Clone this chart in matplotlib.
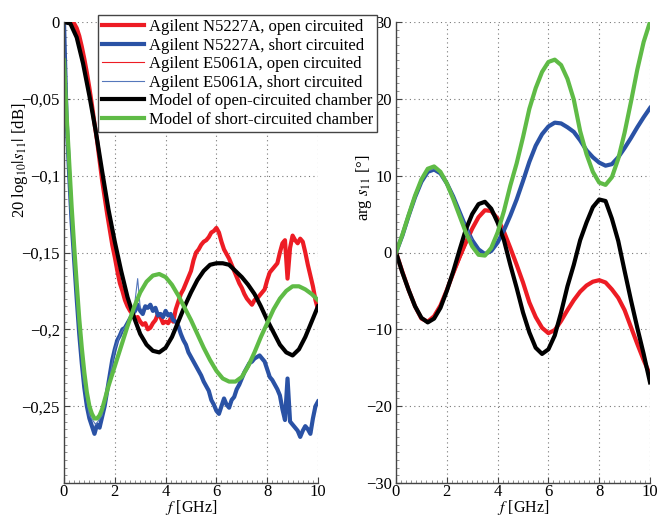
import matplotlib
matplotlib.use("Agg")
import matplotlib.pyplot as plt
from matplotlib.ticker import FuncFormatter, MultipleLocator
import numpy as np

plt.rcParams['font.family'] = ['Liberation Serif', 'DejaVu Serif']
plt.rcParams['mathtext.fontset'] = 'stix'
plt.rcParams['font.size'] = 12

# frequency axes [GHz]
f_meas = np.arange(101) * 0.1
f_model = np.arange(41) * 0.25
f_e5061 = np.arange(13) * 0.25
f_e5061_short = [0, 0.05, 0.1, 0.25, 0.5, 0.75, 1.0, 1.25, 1.5, 1.75, 2.0, 2.25, 2.5, 2.75, 2.9, 3.0]

# |s11| in dB
n5227_open_db = [0.000, 0.001, 0.000, 0.001, -0.001, -0.004, -0.009, -0.016, -0.024, -0.033,
                 -0.043, -0.054, -0.066, -0.077, -0.090, -0.103, -0.114, -0.125, -0.135, -0.145,
                 -0.153, -0.162, -0.170, -0.175, -0.181, -0.185, -0.188, -0.190, -0.193, -0.192,
                 -0.195, -0.197, -0.196, -0.200, -0.199, -0.196, -0.194, -0.190, -0.192, -0.196,
                 -0.195, -0.196, -0.193, -0.195, -0.187, -0.182, -0.177, -0.174, -0.170, -0.166,
                 -0.162, -0.155, -0.150, -0.148, -0.145, -0.143, -0.142, -0.140, -0.137, -0.136,
                 -0.134, -0.137, -0.143, -0.148, -0.151, -0.154, -0.158, -0.162, -0.166, -0.170,
                 -0.173, -0.177, -0.180, -0.182, -0.184, -0.181, -0.180, -0.178, -0.176, -0.174,
                 -0.168, -0.163, -0.161, -0.159, -0.157, -0.150, -0.144, -0.142, -0.167, -0.147,
                 -0.139, -0.142, -0.144, -0.141, -0.143, -0.150, -0.158, -0.165, -0.172, -0.181,
                 -0.187]
n5227_short_db = [0.000, -0.062, -0.098, -0.130, -0.155, -0.180, -0.203, -0.222, -0.238, -0.250,
                  -0.258, -0.263, -0.268, -0.262, -0.264, -0.257, -0.250, -0.240, -0.230, -0.220,
                  -0.213, -0.207, -0.204, -0.200, -0.199, -0.196, -0.193, -0.190, -0.188, -0.184,
                  -0.188, -0.190, -0.185, -0.186, -0.184, -0.188, -0.186, -0.191, -0.190, -0.192,
                  -0.188, -0.191, -0.190, -0.194, -0.195, -0.198, -0.203, -0.207, -0.210, -0.215,
                  -0.218, -0.221, -0.224, -0.227, -0.230, -0.234, -0.237, -0.240, -0.246, -0.249,
                  -0.253, -0.255, -0.250, -0.245, -0.249, -0.251, -0.246, -0.244, -0.239, -0.236,
                  -0.232, -0.228, -0.225, -0.222, -0.221, -0.219, -0.218, -0.217, -0.219, -0.221,
                  -0.226, -0.231, -0.233, -0.236, -0.239, -0.243, -0.252, -0.259, -0.232, -0.260,
                  -0.262, -0.264, -0.266, -0.270, -0.266, -0.263, -0.265, -0.268, -0.258, -0.250,
                  -0.247]
e5061_open_db = [0.000, 0.000, -0.004, -0.020, -0.043, -0.068, -0.100, -0.127, -0.152, -0.172,
                 -0.185, -0.192, -0.195]
e5061_short_db = [0.000, -0.035, -0.062, -0.115, -0.178, -0.231, -0.256, -0.262, -0.256, -0.236,
                  -0.213, -0.202, -0.196, -0.188, -0.167, -0.186]
model_open_db = [0.000, -0.001, -0.010, -0.027, -0.048, -0.071, -0.097, -0.122, -0.143, -0.162,
                 -0.179, -0.192, -0.203, -0.210, -0.214, -0.215, -0.212, -0.205, -0.195, -0.185,
                 -0.176, -0.168, -0.162, -0.158, -0.157, -0.157, -0.158, -0.162, -0.166, -0.171,
                 -0.177, -0.185, -0.194, -0.202, -0.210, -0.215, -0.217, -0.213, -0.205, -0.195,
                 -0.185]
f_model_short_db = [0, 0.1, 0.2, 0.3, 0.4, 0.5, 0.6, 0.7, 0.8, 0.9, 1.0, 1.1, 1.2, 1.3, 1.4, 1.5,
                    1.75, 2.0, 2.25, 2.5, 2.75, 3.0, 3.25, 3.5, 3.75, 4.0, 4.25, 4.5, 4.75, 5.0,
                    5.25, 5.5, 5.75, 6.0, 6.25, 6.5, 6.75, 7.0, 7.25, 7.5, 7.75, 8.0, 8.25, 8.5,
                    8.75, 9.0, 9.25, 9.5, 9.75, 10.0]
model_short_db = [-0.025, -0.060, -0.090, -0.120, -0.146, -0.170, -0.193, -0.212, -0.228, -0.241,
                  -0.250, -0.255, -0.258, -0.258, -0.256, -0.252, -0.237, -0.224, -0.211, -0.198,
                  -0.186, -0.176, -0.169, -0.165, -0.164, -0.166, -0.171, -0.178, -0.186, -0.194,
                  -0.203, -0.212, -0.220, -0.227, -0.232, -0.234, -0.234, -0.231, -0.224, -0.215,
                  -0.205, -0.196, -0.187, -0.180, -0.175, -0.172, -0.172, -0.174, -0.177, -0.181]

# arg s11 in degrees
n5227_open_deg = [0, -2.5, -4.9, -7.0, -8.6, -9.0, -8.3, -6.9, -4.9, -2.7,
                  -0.6, 1.3, 3.1, 4.6, 5.5, 5.4, 4.4, 2.7, 0.6, -1.6,
                  -3.9, -6.5, -8.4, -9.8, -10.5, -10.1, -8.9, -7.5, -6.2, -5.1,
                  -4.3, -3.8, -3.6, -3.9, -4.8, -5.9, -7.5, -9.7, -11.9, -14.0,
                  -15.9]
n5227_short_deg = [0, 2.2, 4.8, 7.2, 9.2, 10.5, 10.8, 10.3, 9.0, 7.3,
                   5.3, 3.3, 1.6, 0.4, -0.2, 0.2, 1.3, 2.9, 4.8, 6.9,
                   9.3, 11.8, 13.9, 15.4, 16.4, 16.9, 16.8, 16.3, 15.7, 14.6,
                   13.3, 12.4, 11.7, 11.3, 11.5, 12.4, 13.6, 14.9, 16.3, 17.6,
                   18.8]
e5061_open_deg = [0, -2.4, -4.8, -6.9, -8.5, -9.0, -8.4, -7.1, -5.2, -3.1, -1.1, 0.9, 2.8]
e5061_short_deg = [0, 0.5, 0.9, 2.3, 4.9, 7.3, 9.3, 10.6, 10.9, 10.4, 9.1, 7.4, 5.4, 3.4, 2.4, 1.7]
model_open_deg = [0, -2.6, -4.9, -7.0, -8.5, -9.1, -8.6, -7.2, -5.0, -2.5,
                  0.3, 3.0, 5.0, 6.3, 6.6, 5.7, 3.9, 1.6, -1.6, -4.6,
                  -7.8, -10.4, -12.4, -13.2, -12.6, -10.8, -7.8, -4.4, -1.6, 1.6,
                  3.9, 5.9, 6.9, 6.7, 4.4, 1.5, -2.4, -6.2, -9.8, -13.2,
                  -16.9]
model_short_deg = [0, 2.3, 4.9, 7.4, 9.5, 10.9, 11.2, 10.5, 9.0, 7.0,
                   4.8, 2.6, 0.8, -0.3, -0.4, 0.6, 2.6, 5.4, 8.7, 11.6,
                   15.0, 18.7, 21.4, 23.5, 24.8, 25.1, 24.4, 22.6, 19.9, 15.8,
                   12.8, 10.5, 9.1, 8.8, 9.8, 12.2, 15.6, 19.6, 23.8, 27.4,
                   30.0]

labels = ['Agilent N5227A, open circuited', 'Agilent N5227A, short circuited',
          'Agilent E5061A, open circuited', 'Agilent E5061A, short circuited',
          'Model of open-circuited chamber', 'Model of short-circuited chamber']

RED = '#ed1c24'
BLUE = '#2a52a5'
GREEN = '#5fbb46'

fig = plt.figure(figsize=(6.62, 5.18), dpi=100)
ax1 = fig.add_axes([64/662, 35/518, 254/662, 461/518])
ax2 = fig.add_axes([396/662, 35/518, 254/662, 461/518])


def style(ax):
    for s in ['top', 'right']:
        ax.spines[s].set_visible(False)
    for s in ['left', 'bottom']:
        ax.spines[s].set_color('#444444')
        ax.spines[s].set_linewidth(1.0)
    ax.grid(True, which='major', linestyle=(0, (1, 3)), color='#777777', linewidth=0.8)
    ax.tick_params(which='major', direction='in', length=4, width=0.8, colors='#444444',
                   labelcolor='black', labelsize=12)
    ax.tick_params(which='minor', direction='in', length=2, width=0.5, colors='#666666')
    ax.tick_params(axis='x', pad=1)
    ax.tick_params(axis='y', pad=3)
    ax.set_xlim(0, 10)
    ax.set_xticks(range(0, 11, 2))
    ax.xaxis.set_minor_locator(MultipleLocator(0.2))
    ax.set_xlabel(r'$f$ [GHz]', fontsize=11.5)
    ax.xaxis.set_label_coords(0.5, -0.033)


# left: magnitude
ax1.plot(f_meas, n5227_open_db, color=RED, lw=3)
ax1.plot(f_meas, n5227_short_db, color=BLUE, lw=3)
ax1.plot(f_e5061, e5061_open_db, color=RED, lw=0.8)
ax1.plot(f_e5061_short, e5061_short_db, color='#5577bb', lw=0.8)
ax1.plot(f_model, model_open_db, color='black', lw=3)
ax1.plot(f_model_short_db, model_short_db, color=GREEN, lw=3)
style(ax1)
ax1.set_ylim(-0.3, 0)
ax1.set_yticks([0, -0.05, -0.1, -0.15, -0.2, -0.25])
ax1.yaxis.set_minor_locator(MultipleLocator(0.005))
ax1.yaxis.set_major_formatter(FuncFormatter(
    lambda v, p: '0' if abs(v) < 1e-9 else ('%g' % v).replace('-', '\u2212').replace('.', ',')))
ax1.set_ylabel(r'20 log$_{10}|s_{11}|$ [dB]')
ax1.yaxis.set_label_coords(-0.134, 0.70)

# right: phase
lines = []
lines += ax2.plot(f_model, n5227_open_deg, color=RED, lw=3)
lines += ax2.plot(f_model, n5227_short_deg, color=BLUE, lw=3)
lines += ax2.plot(f_e5061, e5061_open_deg, color=RED, lw=0.8)
lines += ax2.plot(f_e5061_short, e5061_short_deg, color='#5577bb', lw=0.8)
lines += ax2.plot(f_model, model_open_deg, color='black', lw=3)
lines += ax2.plot(f_model, model_short_deg, color=GREEN, lw=3)
style(ax2)
ax2.set_ylim(-30, 30)
ax2.set_yticks(range(-30, 31, 10))
ax2.yaxis.set_minor_locator(MultipleLocator(1))
ax2.yaxis.set_major_formatter(FuncFormatter(lambda v, p: ('%d' % v).replace('-', '\u2212')))
ax2.set_ylabel(r'arg $s_{11}$ [°]')
ax2.yaxis.set_label_coords(-0.087, 0.64)

leg = fig.legend(lines, labels, loc='upper left', bbox_to_anchor=(98/662, 503/518),
                 fontsize=12, labelspacing=0.15, handlelength=2.5, handletextpad=0.3,
                 borderpad=0.25, borderaxespad=0, fancybox=False, framealpha=1)
leg.get_frame().set_edgecolor('#444444')
leg.get_frame().set_linewidth(1.0)

fig.savefig('out.png', dpi=100)
